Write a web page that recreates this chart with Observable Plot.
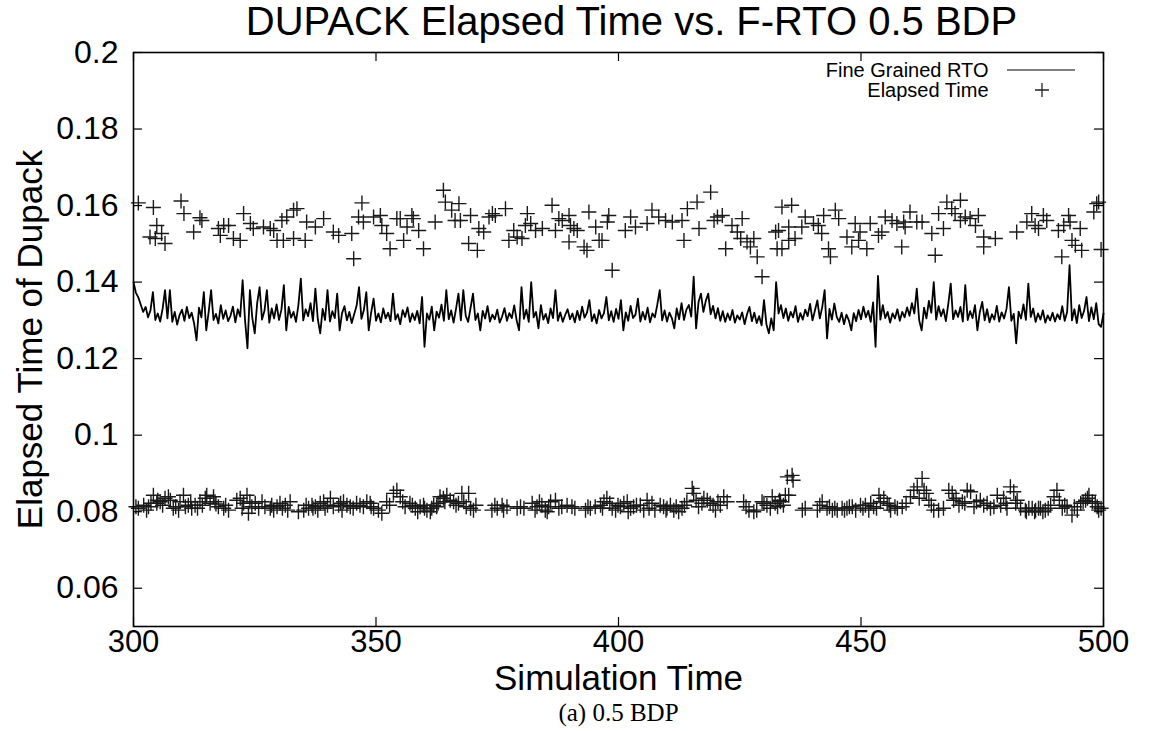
<!DOCTYPE html>
<html><head><meta charset="utf-8">
<script src="https://cdn.jsdelivr.net/npm/d3@7"></script>
<script src="https://cdn.jsdelivr.net/npm/@observablehq/plot@0.6"></script>
<style>body{margin:0;background:#fff} svg{display:block}</style>
</head><body><div id="chart"></div>
<script>
// ---- data ----
const titleText = "DUPACK Elapsed Time vs. F-RTO 0.5 BDP";
const xLabel = "Simulation Time";
const yLabel = "Elapsed Time of Dupack";
const captionText = "(a) 0.5 BDP";
const seriesNames = ["Fine Grained RTO", "Elapsed Time"];
const xTicks = [300, 350, 400, 450, 500];
const xTickLabels = ["300", "350", "400", "450", "500"];
const yTicks = [0.06, 0.08, 0.1, 0.12, 0.14, 0.16, 0.18, 0.2];
const yTickLabels = ["0.06", "0.08", "0.1", "0.12", "0.14", "0.16", "0.18", "0.2"];

// Fine Grained RTO, sampled every 0.5 s from 300 to 500
const rtoStart = 300, rtoStep = 0.5;
const rtoValues = [
.1400,.1372,.1360,.1341,.1322,.1335,.1308,.1326,.1374,.1301,.1318,.1297,.1330,.1379,.1305,.1379,.1296,.1322,.1289,.1314,
.1328,.1299,.1335,.1306,.1320,.1292,.1248,.1333,.1308,.1374,.1274,.1322,.1379,.1301,.1317,.1292,.1340,.1304,.1326,.1298,
.1312,.1336,.1295,.1329,.1310,.1405,.1300,.1227,.1379,.1306,.1266,.1345,.1387,.1302,.1325,.1379,.1294,.1331,.1305,.1342,
.1301,.1328,.1392,.1274,.1335,.1307,.1322,.1296,.1340,.1409,.1300,.1329,.1311,.1345,.1298,.1383,.1303,.1266,.1330,.1301,
.1379,.1297,.1324,.1306,.1370,.1274,.1319,.1337,.1300,.1322,.1293,.1316,.1338,.1387,.1304,.1327,.1374,.1274,.1320,.1357,
.1299,.1318,.1295,.1331,.1305,.1320,.1298,.1370,.1302,.1316,.1290,.1327,.1309,.1334,.1296,.1318,.1301,.1325,.1292,.1361,
.1231,.1318,.1302,.1336,.1274,.1323,.1307,.1341,.1299,.1379,.1303,.1326,.1294,.1330,.1370,.1300,.1379,.1312,.1296,.1333,
.1370,.1301,.1318,.1274,.1325,.1305,.1337,.1297,.1315,.1303,.1328,.1294,.1310,.1332,.1299,.1319,.1306,.1339,.1300,.1274,
.1387,.1304,.1328,.1296,.1400,.1308,.1322,.1279,.1340,.1302,.1317,.1293,.1331,.1306,.1379,.1299,.1321,.1296,.1314,.1329,
.1303,.1318,.1295,.1325,.1301,.1336,.1307,.1320,.1353,.1298,.1316,.1292,.1327,.1305,.1319,.1361,.1300,.1324,.1296,.1330,
.1304,.1353,.1274,.1321,.1299,.1338,.1306,.1315,.1357,.1297,.1322,.1302,.1333,.1295,.1318,.1308,.1341,.1379,.1300,.1326,
.1297,.1320,.1306,.1279,.1331,.1303,.1345,.1301,.1328,.1340,.1310,.1414,.1279,.1348,.1370,.1322,.1351,.1370,.1316,.1338,
.1305,.1332,.1299,.1324,.1296,.1318,.1301,.1327,.1294,.1313,.1302,.1321,.1290,.1316,.1335,.1298,.1320,.1293,.1311,.1287,
.1353,.1290,.1266,.1305,.1274,.1400,.1318,.1340,.1306,.1331,.1299,.1322,.1308,.1337,.1296,.1319,.1302,.1328,.1311,.1343,
.1300,.1326,.1352,.1305,.1334,.1379,.1253,.1330,.1302,.1344,.1309,.1296,.1320,.1290,.1315,.1300,.1274,.1319,.1298,.1327,
.1303,.1336,.1308,.1325,.1296,.1347,.1231,.1416,.1302,.1340,.1306,.1322,.1294,.1318,.1305,.1329,.1299,.1322,.1308,.1334,
.1312,.1345,.1318,.1383,.1300,.1274,.1333,.1305,.1351,.1320,.1400,.1302,.1337,.1311,.1329,.1298,.1343,.1396,.1303,.1326,
.1309,.1335,.1297,.1392,.1301,.1324,.1306,.1340,.1274,.1322,.1348,.1300,.1329,.1295,.1316,.1302,.1338,.1297,.1321,.1305,
.1330,.1387,.1299,.1317,.1240,.1323,.1305,.1342,.1301,.1396,.1309,.1331,.1296,.1318,.1302,.1326,.1294,.1313,.1300,.1320,
.1297,.1316,.1303,.1337,.1299,.1322,.1444,.1300,.1329,.1293,.1340,.1306,.1325,.1361,.1298,.1334,.1303,.1345,.1290,.1283,.1318
];

// Elapsed Time, upper band
const upperTimes = [
301.0,304.1,309.8,310.4,313.7,314.1,304.8,303.4,304.5,305.8,306.5,312.4,317.5,318.6,319.6,317.9,320.6,322.0,322.7,324.1,
324.7,326.8,328.2,328.9,330.6,331.6,333.0,333.7,329.6,330.9,333.0,335.4,335.7,337.5,339.2,341.2,342.3,345.0,345.4,347.1,
346.4,347.4,349.5,350.9,351.2,352.2,352.9,354.3,355.0,355.7,356.4,357.4,357.7,358.8,359.8,362.2,363.9,364.3,365.6,366.3,
367.1,367.4,369.5,369.1,370.9,371.2,372.2,373.3,374.0,374.6,376.7,377.4,378.4,379.1,380.1,381.2,380.8,381.9,382.9,384.3,
386.3,387.0,387.7,388.4,389.8,390.1,390.8,391.5,389.8,392.9,393.5,393.9,395.3,396.0,396.6,398.0,397.7,398.7,401.4,402.5,
403.5,405.9,406.9,408.3,409.7,411.1,413.1,413.5,414.2,416.2,416.6,419.0,419.7,420.4,421.4,422.1,423.4,424.5,425.5,425.2,
426.5,427.2,427.9,428.6,429.6,432.4,432.7,
433.7,435.7,433.0,433.7,435.1,435.1,436.4,437.8,438.5,440.2,441.2,441.9,442.3,443.3,443.7,444.7,445.4,447.1,448.1,448.8,
449.8,449.5,451.2,451.9,453.6,454.3,455.0,456.4,457.4,458.8,458.4,459.1,460.1,461.5,462.6,464.6,465.3,466.0,467.0,467.7,
468.7,469.4,470.5,470.5,471.5,472.5,473.6,474.2,475.3,475.3,477.7,482.1,484.2,485.2,485.9,486.6,487.6,488.3,490.7,491.8,
492.8,493.1,493.5,494.2,495.2,495.5,491.4,498.0,498.6,499.0,499.5
];
const upperValues = [
.1607,.1595,.1612,.1579,.1568,.1561,.1548,.1518,.1514,.1527,.1501,.1531,.1540,.1548,.1548,.1522,.1514,.1509,.1579,.1553,
.1540,.1544,.1540,.1535,.1561,.1570,.1588,.1592,.1509,.1509,.1514,.1509,.1557,.1544,.1566,.1531,.1522,.1527,.1461,.1607,
.1570,.1557,.1570,.1574,.1548,.1527,.1487,.1566,.1566,.1509,.1544,.1574,.1566,.1535,.1487,.1557,.1640,.1609,.1588,.1561,
.1605,.1561,.1574,.1501,.1483,.1540,.1531,.1570,.1579,.1574,.1592,.1509,.1535,.1518,.1514,.1579,.1548,.1553,.1535,.1540,
.1601,.1535,.1566,.1561,.1574,.1548,.1540,.1535,.1505,.1492,.1483,.1583,.1544,.1509,.1509,.1574,.1557,.1431,.1535,.1570,
.1544,.1553,.1588,.1570,.1561,.1557,.1561,.1509,.1592,.1609,.1540,.1635,.1561,.1570,.1574,.1487,.1548,.1531,.1566,.1514,
.1505,.1492,.1514,.1466,.1414,.1531,.1487,
.1596,.1601,.1535,.1487,.1544,.1509,.1514,.1544,.1570,.1553,.1548,.1527,.1574,.1487,.1466,.1588,.1566,.1518,.1492,.1553,
.1531,.1509,.1487,.1553,.1522,.1531,.1570,.1561,.1553,.1557,.1492,.1544,.1583,.1557,.1557,.1527,.1470,.1579,.1540,.1609,
.1592,.1579,.1614,.1561,.1570,.1566,.1548,.1574,.1518,.1492,.1514,.1531,.1557,.1579,.1548,.1540,.1574,.1561,.1535,.1548,
.1574,.1557,.1509,.1496,.1540,.1483,.1466,.1583,.1605,.1609,.1485
];

// Elapsed Time, lower band
const lowerTimes = [
301.0,302.1,302.7,303.1,304.1,304.8,305.5,306.5,307.2,307.6,308.2,309.3,309.6,310.3,310.7,311.3,312.0,312.7,313.7,314.8,
315.1,315.8,316.5,316.8,317.5,318.6,319.6,321.3,322.0,322.7,323.4,323.7,324.4,325.1,326.5,327.1,328.2,328.9,329.6,330.2,
331.3,332.3,334.0,335.1,336.1,336.8,337.5,338.5,339.2,339.5,340.6,341.2,342.3,343.0,343.3,344.0,344.7,346.0,347.4,348.1,
348.8,349.5,350.5,351.2,352.2,353.6,354.3,355.0,356.0,357.0,358.1,359.1,359.8,360.5,361.2,361.9,362.5,363.2,363.9,364.6,
365.3,366.0,367.0,367.7,
300.5,303.6,305.0,306.0,308.7,311.8,313.2,314.2,317.0,319.0,322.4,324.0,325.8,328.5,330.7,331.8,335.6,337.0,338.0,340.0,
342.7,345.3,346.7,349.0,352.8,355.5,357.5,358.6,360.0,361.5,362.8,364.2,366.5,
368.1,369.1,369.5,370.1,373.9,375.0,376.0,376.3,379.1,379.8,382.2,383.2,384.2,384.9,385.3,386.0,387.0,387.7,389.4,390.4,
393.2,394.2,395.2,396.3,397.0,397.6,398.7,399.4,400.4,401.1,401.8,402.5,403.1,404.5,405.2,405.9,406.9,408.6,409.3,410.0,
410.7,411.4,412.4,413.1,414.1,415.2,415.5,416.5,417.6,418.3,418.9,420.0,421.0,421.7,422.4,425.8,426.9,427.9,429.6,430.6,
431.3,431.7,432.3,434.4,434.8,
368.6,370.6,374.5,377.0,380.5,382.8,383.7,385.6,388.3,391.0,393.7,396.7,398.2,399.9,402.0,403.7,406.3,407.5,409.8,411.9,
413.6,416.0,417.2,419.5,420.5,426.3,428.5,430.0,432.8,433.2,
433.4,435.1,435.8,436.0,437.9,441.0,442.0,443.0,444.1,445.1,446.1,447.1,448.2,448.9,449.9,450.9,451.6,452.6,453.7,454.0,
454.7,455.4,456.1,457.5,458.5,460.2,460.9,461.6,462.6,463.0,464.0,465.0,466.0,468.1,468.8,469.1,470.2,470.9,471.9,472.6,
473.3,474.6,476.0,477.4,478.1,478.8,479.4,480.1,480.8,481.5,482.2,482.9,483.9,484.6,485.3,486.0,487.0,488.0,489.1,489.8,
490.4,491.5,492.5,493.5,494.6,495.3,496.3,497.0,497.7,498.3,499.0,
434.0,438.5,441.5,443.5,444.6,446.6,447.6,450.4,452.0,453.2,455.8,457.0,459.3,462.0,463.5,464.5,467.0,469.6,471.4,473.8,
475.3,476.7,479.9,481.9,484.1,485.8,486.6,487.5,488.6,490.9,492.0,494.0,495.8,496.7,498.7,499.5
];
const lowerValues = [
.0809,.0817,.0804,.0813,.0843,.0822,.0826,.0835,.0839,.0830,.0809,.0804,.0826,.0843,.0813,.0817,.0809,.0817,.0826,.0835,
.0843,.0822,.0839,.0826,.0813,.0809,.0804,.0830,.0835,.0822,.0843,.0796,.0813,.0822,.0826,.0813,.0809,.0804,.0813,.0822,
.0817,.0826,.0800,.0804,.0809,.0817,.0813,.0822,.0826,.0809,.0835,.0813,.0817,.0804,.0826,.0817,.0813,.0822,.0813,.0826,
.0822,.0809,.0804,.0796,.0826,.0848,.0856,.0839,.0813,.0822,.0809,.0813,.0817,.0804,.0800,.0817,.0813,.0839,.0835,.0843,
.0830,.0826,.0822,.0848,
.0813,.0822,.0830,.0817,.0813,.0826,.0809,.0817,.0820,.0817,.0809,.0826,.0809,.0817,.0809,.0804,.0817,.0809,.0804,.0817,
.0822,.0809,.0817,.0813,.0817,.0826,.0817,.0800,.0809,.0809,.0822,.0826,.0817,
.0826,.0848,.0809,.0804,.0804,.0809,.0817,.0804,.0809,.0813,.0822,.0813,.0817,.0804,.0800,.0826,.0830,.0809,.0817,.0813,
.0804,.0809,.0813,.0817,.0826,.0835,.0809,.0804,.0813,.0822,.0826,.0809,.0813,.0817,.0804,.0830,.0822,.0817,.0813,.0809,
.0817,.0804,.0800,.0809,.0826,.0861,.0848,.0813,.0835,.0830,.0822,.0804,.0817,.0839,.0826,.0826,.0804,.0800,.0826,.0817,
.0809,.0839,.0822,.0843,.0891,
.0813,.0817,.0817,.0813,.0809,.0804,.0826,.0813,.0813,.0809,.0813,.0809,.0822,.0817,.0800,.0817,.0809,.0804,.0804,.0813,
.0817,.0830,.0822,.0817,.0826,.0813,.0804,.0822,.0813,.0830,
.0826,.0843,.0895,.0882,.0804,.0804,.0826,.0809,.0804,.0804,.0809,.0809,.0813,.0804,.0817,.0817,.0804,.0813,.0843,.0826,
.0835,.0822,.0804,.0809,.0813,.0839,.0856,.0865,.0887,.0856,.0830,.0804,.0804,.0856,.0848,.0830,.0817,.0826,.0856,.0852,
.0813,.0830,.0822,.0813,.0843,.0817,.0835,.0809,.0865,.0852,.0830,.0809,.0804,.0809,.0809,.0804,.0809,.0804,.0817,.0839,
.0856,.0809,.0813,.0791,.0804,.0822,.0830,.0843,.0826,.0822,.0804,
.0817,.0809,.0817,.0813,.0809,.0804,.0813,.0809,.0822,.0809,.0817,.0813,.0822,.0835,.0848,.0817,.0809,.0835,.0822,.0826,
.0817,.0809,.0822,.0822,.0800,.0800,.0809,.0800,.0809,.0830,.0817,.0813,.0826,.0835,.0813,.0809
];

// ---- chart ----
const rto = rtoValues.map((v, i) => ({t: rtoStart + i * rtoStep, v}));
const elapsed = [
  ...upperTimes.map((t, i) => ({t, v: upperValues[i]})),
  ...lowerTimes.map((t, i) => ({t, v: lowerValues[i]}))
];

const W = 1149, H = 731, mL = 133, mR = 46, mT = 52, mB = 105;
const fw = W - mL - mR, fh = H - mT - mB, tl = 9;
const sans = "'Liberation Sans', Arial, Helvetica, sans-serif";

const plus = {draw(ctx, size) {
  const r = Math.sqrt(size / Math.PI);
  ctx.moveTo(-r, 0); ctx.lineTo(r, 0);
  ctx.moveTo(0, -r); ctx.lineTo(0, r);
}};

function legendSamples(index, scales, values, dims) {
  const right = dims.width - dims.marginRight;
  const g = d3.create("svg:g");
  g.append("line")
    .attr("x1", right - 96).attr("x2", right - 28)
    .attr("y1", dims.marginTop + 18).attr("y2", dims.marginTop + 18)
    .attr("stroke", "black").attr("stroke-width", 1.2);
  g.append("path")
    .attr("d", `M${right - 68},${dims.marginTop + 38}h14M${right - 61},${dims.marginTop + 31}v14`)
    .attr("stroke", "#222").attr("stroke-width", 1.3).attr("fill", "none");
  return g.node();
}

const chart = Plot.plot({
  width: W, height: H,
  marginLeft: mL, marginRight: mR, marginTop: mT, marginBottom: mB,
  style: {fontFamily: sans, background: "#fff", color: "black"},
  x: {domain: [300, 500]},
  y: {domain: [0.05, 0.2]},
  marks: [
    Plot.line(rto, {x: "t", y: "v", stroke: "black", strokeWidth: 1.8}),
    Plot.dot(elapsed, {x: "t", y: "v", symbol: plus, r: 7.5, stroke: "#1a1a1a", strokeWidth: 1.4, fill: "none"}),
    // inward ticks on all four sides
    Plot.tickX(xTicks, {x: d => d, insetTop: fh - tl, stroke: "black", strokeWidth: 1.2}),
    Plot.tickX(xTicks, {x: d => d, insetBottom: fh - tl, stroke: "black", strokeWidth: 1.2}),
    Plot.tickY(yTicks, {y: d => d, insetRight: fw - tl, stroke: "black", strokeWidth: 1.2}),
    Plot.tickY(yTicks, {y: d => d, insetLeft: fw - tl, stroke: "black", strokeWidth: 1.2}),
    Plot.axisX({ticks: xTicks, tickFormat: (d, i) => xTickLabels[i], tickSize: 0, tickPadding: 3, fontSize: 31, label: null}),
    Plot.axisY({ticks: yTicks, tickFormat: (d, i) => yTickLabels[i], tickSize: 0, tickPadding: 15, fontSize: 32, label: null}),
    Plot.frame({stroke: "black", strokeWidth: 1.6}),
    // legend
    Plot.text([seriesNames[0]], {frameAnchor: "top-right", dx: -115, dy: 18, textAnchor: "end", lineAnchor: "middle", fontSize: 20}),
    Plot.text([seriesNames[1]], {frameAnchor: "top-right", dx: -115, dy: 38, textAnchor: "end", lineAnchor: "middle", fontSize: 20}),
    legendSamples,
    // titles
    Plot.text([titleText], {frameAnchor: "top", dx: 13, dy: -30, textAnchor: "middle", lineAnchor: "middle", fontSize: 40}),
    Plot.text([xLabel], {frameAnchor: "bottom", dy: 52, textAnchor: "middle", lineAnchor: "middle", fontSize: 35}),
    Plot.text([yLabel], {frameAnchor: "left", dx: -103, rotate: -90, textAnchor: "middle", lineAnchor: "middle", fontSize: 35}),
    Plot.text([captionText], {frameAnchor: "bottom", dy: 86, textAnchor: "middle", lineAnchor: "middle", fontSize: 25, fontFamily: "'Liberation Serif', 'DejaVu Serif', serif"})
  ]
});
document.getElementById("chart").appendChild(chart);
</script>
</body></html>
